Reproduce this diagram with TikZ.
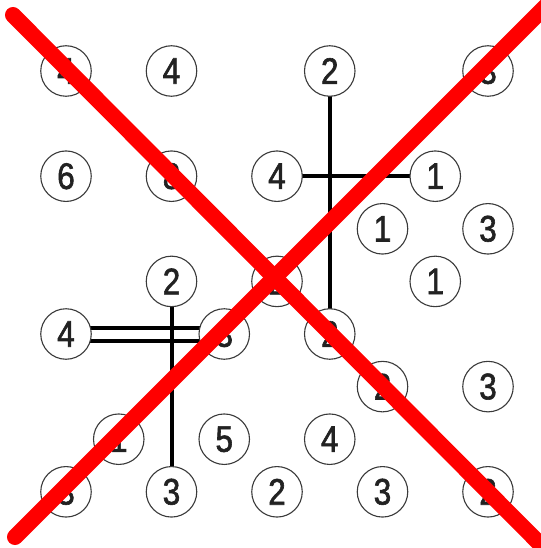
\documentclass[tikz,border=0pt]{standalone}
\usepackage{fontspec}
\setmainfont{Liberation Sans}[FakeStretch=0.85, FakeBold=1.6]
\usetikzlibrary{backgrounds}
\definecolor{ringgray}{HTML}{3A3A3A}
\definecolor{digitcol}{HTML}{222222}
\definecolor{xred}{HTML}{FF0000}
\tikzset{
  island/.style={circle, draw=ringgray, line width=1.1pt, fill=white, minimum size=50.5pt, inner sep=0pt,
    text=digitcol, font=\fontsize{37}{37}\selectfont},
  bridge/.style={line width=4pt, black},
  cross/.style={line width=16pt, xred, line cap=round}
}
\begin{document}
\begin{tikzpicture}[x=1pt,y=-1pt]
\useasboundingbox (0,0) rectangle (540,548);
\foreach \n/\c/\r/\d in {A/0/0/4, B/2/0/4, C/5/0/2, D/8/0/3,
  E/0/2/6, F/2/2/8, G/4/2/4, H/7/2/1,
  I/6/3/1, J/8/3/3,
  K/2/4/2, L/4/4/2, M/7/4/1,
  N/0/5/4, O/3/5/3, P/5/5/2,
  Q/6/6/2, R/8/6/3,
  S/1/7/1, T/3/7/5, U/5/7/4,
  V/0/8/3, W/2/8/3, X/4/8/2, Y/6/8/3, Z/8/8/2}
  \node[island] (\n) at ({66+52.75*\c},{71+52.6*\r}) {\d};
\begin{scope}[on background layer]
  \draw[bridge] (C.center) -- (P.center);
  \draw[bridge] (G.center) -- (H.center);
  \draw[bridge] (K.center) -- (W.center);
  \draw[bridge] ([yshift=6.5pt]N.center) -- ([yshift=6.5pt]O.center);
  \draw[bridge] ([yshift=-6.5pt]N.center) -- ([yshift=-6.5pt]O.center);
\end{scope}
\coordinate (tl) at (13,15);
\coordinate (br) at (548,552);
\coordinate (bl) at (15,537);
\coordinate (tr) at (550,2);
\draw[cross] (tl) -- (br);
\draw[cross] (bl) -- (tr);
\end{tikzpicture}
\end{document}
